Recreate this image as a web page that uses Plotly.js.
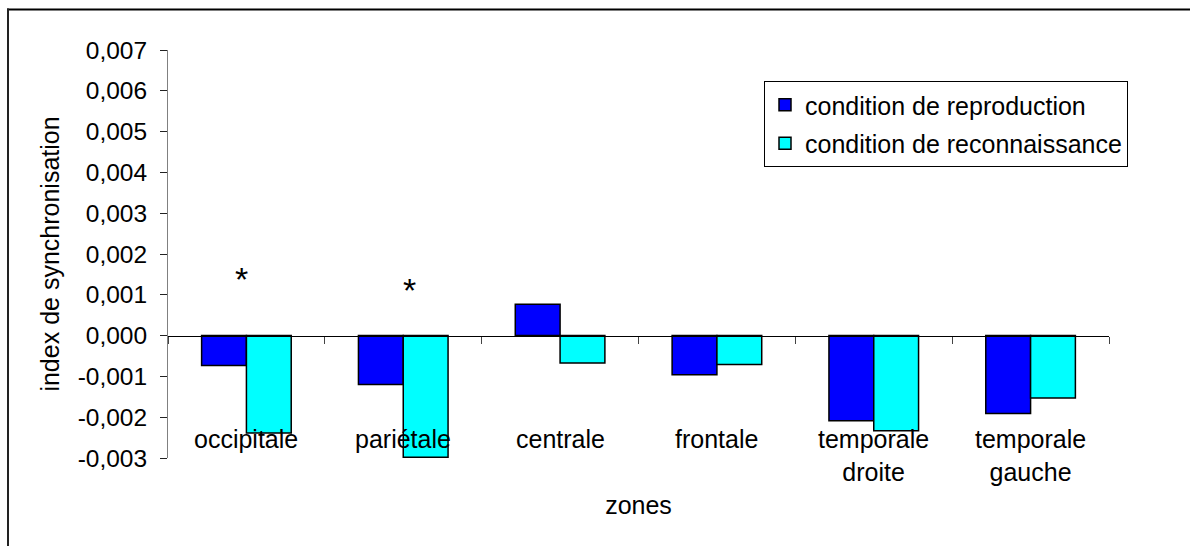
<!DOCTYPE html>
<html>
<head>
<meta charset="utf-8">
<script src="https://cdn.plot.ly/plotly-3.0.1.min.js"></script>
<style>
  html, body { margin: 0; padding: 0; background: #fff; }
  #chart { width: 1190px; height: 546px; }
</style>
</head>
<body>
<div id="chart"></div>
<script>
// ---- data ----
const categories = ['occipitale', 'pariétale', 'centrale', 'frontale', 'temporale droite', 'temporale gauche'];
const categoryLabels = ['occipitale', 'pariétale', 'centrale', 'frontale', 'temporale<br>droite', 'temporale<br>gauche'];
const seriesNames = ['condition de reproduction', 'condition de reconnaissance'];
const reproduction = [-0.00073, -0.00120, 0.00077, -0.00096, -0.00209, -0.00191];
const reconnaissance = [-0.00239, -0.00298, -0.00067, -0.00071, -0.00233, -0.00153];
const yTickValues = [-0.003, -0.002, -0.001, 0, 0.001, 0.002, 0.003, 0.004, 0.005, 0.006, 0.007];
const yTickLabels = ['-0,003', '-0,002', '-0,001', '0,000', '0,001', '0,002', '0,003', '0,004', '0,005', '0,006', '0,007'];
const starCategories = ['occipitale', 'pariétale'];
const starValues = [0.00138, 0.00111];
const starShifts = [-5, 6];
const xTitle = 'zones';
const yTitle = 'index de synchronisation';

// ---- layout constants ----
const FONT = 'Liberation Sans, Arial, sans-serif';
const FS = 25;
const W = 1190, H = 546;
const M = { l: 168, r: 81, t: 50, b: 88 };
const pw = W - M.l - M.r, ph = H - M.t - M.b;
const px2x = p => (p - M.l) / pw;
const py2y = p => (H - M.b - p) / ph;

const traces = [
  {
    type: 'bar', name: seriesNames[0], x: categories, y: reproduction, legendgroup: 'a',
    marker: { color: '#0000FF', line: { color: '#000', width: 1.5 } }
  },
  {
    type: 'bar', name: seriesNames[1], x: categories, y: reconnaissance, legendgroup: 'b',
    marker: { color: '#00FFFF', line: { color: '#000', width: 1.5 } }
  }
];

const annotations = categories.map((c, i) => ({
  x: c, xref: 'x', y: -0.003, yref: 'y', yanchor: 'top', yshift: 35,
  text: categoryLabels[i], showarrow: false,
  font: { family: FONT, size: FS, color: '#000' }
})).concat(starCategories.map((c, i) => ({
  x: c, xref: 'x', y: starValues[i], yref: 'y', xshift: starShifts[i],
  text: '*', showarrow: false,
  font: { family: FONT, size: 34, color: '#000' }
})));

const layout = {
  width: W, height: H,
  margin: M,
  paper_bgcolor: '#fff', plot_bgcolor: '#fff',
  font: { family: FONT, size: FS, color: '#000' },
  barmode: 'group', bargap: 1.5 / 3.5, bargroupgap: 0,
  showlegend: true,
  legend: {
    x: px2x(764), y: py2y(81), xanchor: 'left', yanchor: 'top',
    traceorder: 'grouped', tracegroupgap: 3,
    bordercolor: '#000', borderwidth: 1, bgcolor: '#fff',
    font: { family: FONT, size: FS, color: '#000' }
  },
  xaxis: {
    type: 'category', anchor: 'free', position: 0.3,
    showline: true, linecolor: '#000', linewidth: 1,
    ticks: 'outside', tickson: 'boundaries', ticklen: 7, tickcolor: '#444', tickwidth: 1,
    showticklabels: false, showgrid: false, zeroline: false,
    title: { text: xTitle, font: { family: FONT, size: FS }, standoff: 160 }
  },
  yaxis: {
    range: [-0.003, 0.007], tickvals: yTickValues, ticktext: yTickLabels,
    showline: true, linecolor: '#808080', linewidth: 1,
    ticks: 'outside', ticklen: 7, tickcolor: '#222', tickwidth: 1,
    ticklabelstandoff: 8,
    showgrid: false, zeroline: false,
    tickfont: { family: FONT, size: 24.5 },
    title: { text: yTitle, font: { family: FONT, size: FS }, standoff: 10 }
  },
  annotations: annotations,
  shapes: [
    { type: 'line', xref: 'paper', yref: 'paper', x0: px2x(7), x1: px2x(1195), y0: py2y(9.5), y1: py2y(9.5), line: { color: '#000', width: 2 } },
    { type: 'line', xref: 'paper', yref: 'paper', x0: px2x(8), x1: px2x(8), y0: py2y(8.5), y1: py2y(550), line: { color: '#222', width: 2 } }
  ]
};

Plotly.newPlot('chart', traces, layout, { displayModeBar: false, staticPlot: true });
</script>
</body>
</html>
